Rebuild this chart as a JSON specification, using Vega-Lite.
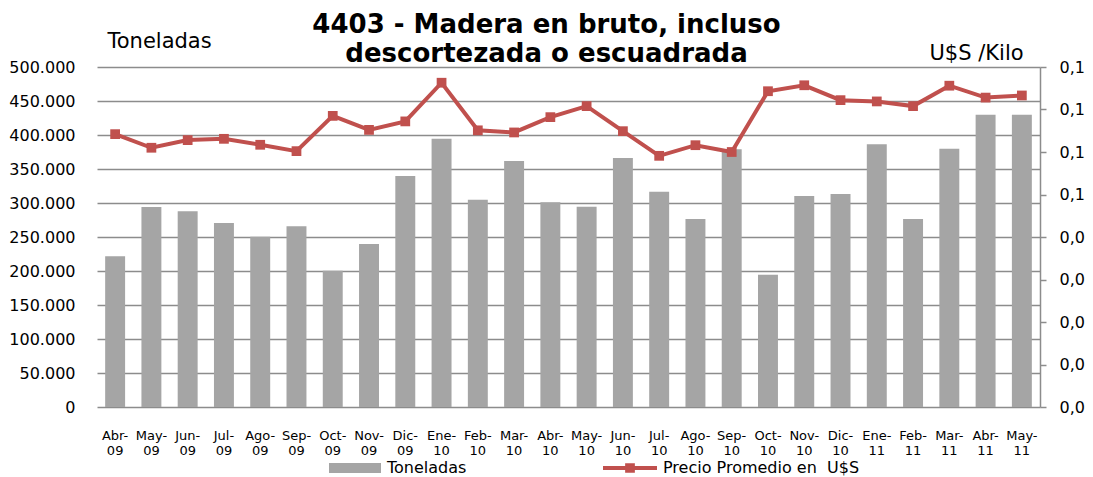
{
  "$schema": "https://vega.github.io/schema/vega-lite/v6.json",
  "width": 943,
  "height": 340,
  "autosize": {"type": "none"},
  "padding": {"left": 97, "top": 67, "right": 53, "bottom": 70},
  "config": {
    "locale": {"number": {"decimal": ",", "thousands": ".", "grouping": [3], "currency": ["$", ""]}},
    "font": "DejaVu Sans",
    "view": {"stroke": null}
  },
  "title": {
    "text": ["4403 - Madera en bruto, incluso", "descortezada o escuadrada"],
    "font": "DejaVu Sans",
    "fontSize": 26,
    "fontWeight": "bold",
    "color": "#000000",
    "anchor": "middle",
    "lineHeight": 29,
    "offset": 5,
    "dx": -22,
    "dy": 42
  },
  "data": {
    "values": [
      {"mes": "Abr-09", "ton": 221600, "precio": 0.0642},
      {"mes": "May-09", "ton": 294100, "precio": 0.0610},
      {"mes": "Jun-09", "ton": 287800, "precio": 0.0628},
      {"mes": "Jul-09", "ton": 270600, "precio": 0.0631},
      {"mes": "Ago-09", "ton": 250400, "precio": 0.0617},
      {"mes": "Sep-09", "ton": 265700, "precio": 0.0602},
      {"mes": "Oct-09", "ton": 200500, "precio": 0.0685},
      {"mes": "Nov-09", "ton": 239700, "precio": 0.0652},
      {"mes": "Dic-09", "ton": 339700, "precio": 0.0672},
      {"mes": "Ene-10", "ton": 394600, "precio": 0.0763},
      {"mes": "Feb-10", "ton": 304900, "precio": 0.0651},
      {"mes": "Mar-10", "ton": 361800, "precio": 0.0646},
      {"mes": "Abr-10", "ton": 301000, "precio": 0.0682},
      {"mes": "May-10", "ton": 294600, "precio": 0.0708},
      {"mes": "Jun-10", "ton": 366200, "precio": 0.0649},
      {"mes": "Jul-10", "ton": 316700, "precio": 0.0591},
      {"mes": "Ago-10", "ton": 276500, "precio": 0.0616},
      {"mes": "Sep-10", "ton": 378900, "precio": 0.0600},
      {"mes": "Oct-10", "ton": 194600, "precio": 0.0743},
      {"mes": "Nov-10", "ton": 310300, "precio": 0.0757},
      {"mes": "Dic-10", "ton": 313200, "precio": 0.0722},
      {"mes": "Ene-11", "ton": 386300, "precio": 0.0719},
      {"mes": "Feb-11", "ton": 276500, "precio": 0.0708},
      {"mes": "Mar-11", "ton": 379900, "precio": 0.0756},
      {"mes": "Abr-11", "ton": 429900, "precio": 0.0728},
      {"mes": "May-11", "ton": 429900, "precio": 0.0733}
    ]
  },
  "encoding": {
    "x": {
      "field": "mes",
      "type": "nominal",
      "sort": null,
      "scale": {"paddingInner": 0.45, "paddingOuter": 0.225},
      "axis": {
        "title": null,
        "labelAngle": 0,
        "domain": false,
        "ticks": false,
        "labelFont": "DejaVu Sans",
        "labelFontSize": 13,
        "labelColor": "#000000",
        "labelPadding": 22,
        "labelLineHeight": 15,
        "labelExpr": "[slice(datum.label, 0, 4), slice(datum.label, 4)]"
      }
    }
  },
  "layer": [
    {
      "mark": {"type": "bar", "clip": false},
      "encoding": {
        "y": {
          "field": "ton",
          "type": "quantitative",
          "scale": {"domain": [0, 500000], "nice": false},
          "axis": {
            "title": "Toneladas",
            "titleAngle": 0,
            "titleAlign": "left",
            "titleBaseline": "alphabetic",
            "titleX": 10,
            "titleY": -20,
            "titleFont": "DejaVu Sans",
            "titleFontSize": 21,
            "titleFontWeight": "normal",
            "titleColor": "#000000",
            "values": [0, 50000, 100000, 150000, 200000, 250000, 300000, 350000, 400000, 450000, 500000],
            "format": ",.0f",
            "labelFont": "DejaVu Sans",
            "labelFontSize": 16,
            "labelColor": "#000000",
            "labelPadding": 22,
            "ticks": false,
            "domain": false,
            "grid": true,
            "gridColor": "#8c8c8c",
            "gridWidth": 1.5
          }
        },
        "fill": {
          "datum": "Toneladas",
          "type": "nominal",
          "scale": {"range": ["#a5a5a5"]},
          "legend": {
            "title": null,
            "orient": "none",
            "legendX": 232,
            "legendY": 375,
            "padding": 0,
            "symbolType": "M-1,-0.19H1V0.19H-1Z",
            "symbolSize": 2704,
            "symbolStrokeWidth": 0,
            "labelFont": "DejaVu Sans",
            "labelFontSize": 16,
            "labelColor": "#000000",
            "labelOffset": 6,
            "labelLimit": 300
          }
        }
      }
    },
    {
      "mark": {"type": "line", "strokeWidth": 4},
      "encoding": {
        "y": {
          "field": "precio",
          "type": "quantitative",
          "scale": {"domain": [0, 0.08], "nice": false},
          "axis": {
            "orient": "right",
            "title": "U$S /Kilo",
            "titleAngle": 0,
            "titleAlign": "left",
            "titleBaseline": "alphabetic",
            "titleX": -111,
            "titleY": -8,
            "titleFont": "DejaVu Sans",
            "titleFontSize": 21,
            "titleFontWeight": "normal",
            "titleColor": "#000000",
            "values": [0, 0.01, 0.02, 0.03, 0.04, 0.05, 0.06, 0.07, 0.08],
            "format": ".1f",
            "labelFont": "DejaVu Sans",
            "labelFontSize": 16,
            "labelColor": "#000000",
            "labelPadding": 13,
            "ticks": true,
            "tickSize": 6,
            "tickColor": "#8c8c8c",
            "tickWidth": 1.5,
            "domain": true,
            "domainColor": "#8c8c8c",
            "domainWidth": 1.5,
            "grid": false
          }
        },
        "stroke": {
          "datum": "Precio Promedio en\u00a0 U$S",
          "type": "nominal",
          "scale": {"range": ["#c0504d"]},
          "legend": {
            "title": null,
            "orient": "none",
            "legendX": 506,
            "legendY": 374,
            "padding": 0,
            "symbolType": "M-1,-0.07H1V0.07H-1Z M-0.18,-0.18H0.18V0.18H-0.18Z",
            "symbolSize": 2916,
            "labelFont": "DejaVu Sans",
            "labelFontSize": 16,
            "labelColor": "#000000",
            "labelOffset": 6,
            "labelLimit": 300,
            "encode": {
              "symbols": {
                "update": {
                  "fill": {"value": "#c0504d"},
                  "stroke": {"value": "#c0504d"},
                  "strokeWidth": {"value": 0}
                }
              }
            }
          }
        }
      }
    },
    {
      "mark": {"type": "point", "shape": "square", "filled": true, "size": 95, "color": "#c0504d", "opacity": 1},
      "encoding": {
        "y": {"field": "precio", "type": "quantitative", "scale": {"domain": [0, 0.08], "nice": false}, "axis": null}
      }
    }
  ],
  "resolve": {"scale": {"y": "independent"}, "axis": {"y": "independent"}}
}
